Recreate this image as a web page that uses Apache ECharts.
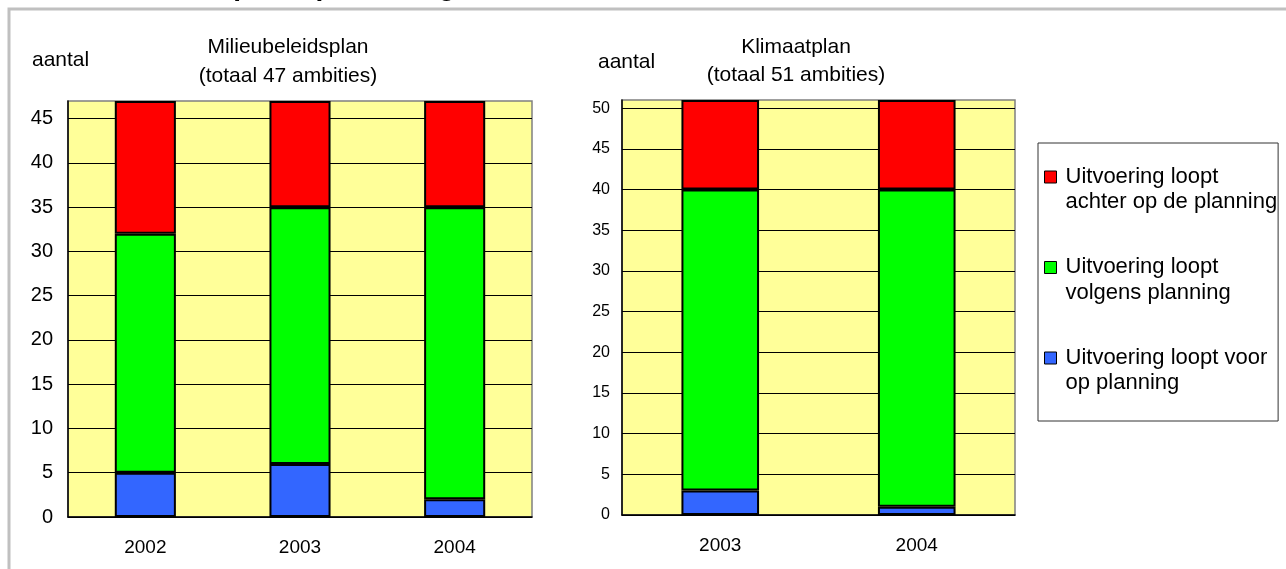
<!DOCTYPE html>
<html><head><meta charset="utf-8">
<script src="https://cdn.jsdelivr.net/npm/echarts@6/dist/echarts.min.js"></script>
<style>html,body{margin:0;padding:0;background:#fff}#c{width:1286px;height:569px}</style>
</head><body><div id="c"></div>
<script>
const yearsMBP = ['2002', '2003', '2004'];
const yearsKP = ['2003', '2004'];
const voorMBP = [5, 6, 2];
const volgensMBP = [27, 29, 33];
const achterMBP = [15, 12, 12];
const voorKP = [3, 1];
const volgensKP = [37, 39];
const achterKP = [11, 11];
const nameAchter = 'Uitvoering loopt\nachter op de planning';
const nameVolgens = 'Uitvoering loopt\nvolgens planning';
const nameVoor = 'Uitvoering loopt voor\nop planning';
const FONT = '"Liberation Sans", Arial, sans-serif';

const chart = echarts.init(document.getElementById('c'), null, {renderer: 'canvas'});
const barStyle = c => ({color: c, borderColor: '#000', borderWidth: 2});
function bars(name, data, color, idx, stack) {
  return {type: 'bar', name, data, stack, xAxisIndex: idx, yAxisIndex: idx, barWidth: '39.5%',
    itemStyle: barStyle(color), emphasis: {disabled: true}};
}
const yAx = (idx, max, fs, margin) => ({
  type: 'value', gridIndex: idx, min: 0, max, interval: 5,
  axisLine: {show: true, lineStyle: {color: '#000', width: 1.5}},
  axisTick: {show: false},
  axisLabel: {fontFamily: FONT, fontSize: fs, color: '#000', margin, showMaxLabel: false},
  splitLine: {show: true, showMaxLine: false, lineStyle: {color: '#000', width: 1}}
});
const xAx = (idx, data) => ({
  type: 'category', gridIndex: idx, data,
  axisLine: {show: true, lineStyle: {color: '#000', width: 1.5}},
  axisTick: {show: false},
  axisLabel: {fontFamily: FONT, fontSize: 19, color: '#000', margin: 21}
});
chart.setOption({
  animation: false,
  graphic: [
    {type: 'rect', shape: {x: 9, y: 9, width: 1300, height: 600}, style: {fill: 'none', stroke: '#c0c0c0', lineWidth: 3}, z: 100},
    {type: 'text', x: 132, y: 1, style: {text: 'Klimaatplan op koers ligt', font: 'bold 28px ' + FONT, fill: '#000', verticalAlign: 'bottom'}},
    {type: 'text', x: 32, y: 60, style: {text: 'aantal', font: '21px ' + FONT, fill: '#000', verticalAlign: 'middle'}},
    {type: 'text', x: 288, y: 47, style: {text: 'Milieubeleidsplan', font: '21px ' + FONT, fill: '#000', align: 'center', verticalAlign: 'middle'}},
    {type: 'text', x: 288, y: 76, style: {text: '(totaal 47 ambities)', font: '21px ' + FONT, fill: '#000', align: 'center', verticalAlign: 'middle'}},
    {type: 'text', x: 598, y: 62, style: {text: 'aantal', font: '21px ' + FONT, fill: '#000', verticalAlign: 'middle'}},
    {type: 'text', x: 796, y: 47, style: {text: 'Klimaatplan', font: '21px ' + FONT, fill: '#000', align: 'center', verticalAlign: 'middle'}},
    {type: 'text', x: 796, y: 75, style: {text: '(totaal 51 ambities)', font: '21px ' + FONT, fill: '#000', align: 'center', verticalAlign: 'middle'}}
  ],
  grid: [
    {left: 68, top: 101, width: 464, height: 416, show: true, backgroundColor: '#FFFF99', borderColor: '#808080', borderWidth: 1.5},
    {left: 622, top: 100, width: 393, height: 415, show: true, backgroundColor: '#FFFF99', borderColor: '#808080', borderWidth: 1.5}
  ],
  xAxis: [xAx(0, yearsMBP), xAx(1, yearsKP)],
  yAxis: [yAx(0, 47, 20, 15), yAx(1, 51, 16, 12)],
  legend: {
    orient: 'vertical', left: 1038, top: 143,
    data: [nameAchter, nameVolgens, nameVoor],
    icon: 'path://M0,0L12,0L12,12L0,12ZM0,37', symbolKeepAspect: false,
    itemWidth: 12, itemHeight: 37, itemGap: 39.5,
    itemStyle: {borderWidth: 1, borderColor: '#000'},
    padding: [21, 1, 25, 6],
    borderColor: '#333', borderWidth: 1, backgroundColor: '#fff',
    selectedMode: false,
    textStyle: {fontFamily: FONT, fontSize: 22, color: '#000', lineHeight: 25.5, padding: [0, 0, 0, 4]}
  },
  series: [
    bars(nameVoor, voorMBP, '#3366FF', 0, 'L'),
    bars(nameVolgens, volgensMBP, '#00FF00', 0, 'L'),
    bars(nameAchter, achterMBP, '#FF0000', 0, 'L'),
    bars(nameVoor, voorKP, '#3366FF', 1, 'R'),
    bars(nameVolgens, volgensKP, '#00FF00', 1, 'R'),
    bars(nameAchter, achterKP, '#FF0000', 1, 'R')
  ]
});
</script></body></html>
